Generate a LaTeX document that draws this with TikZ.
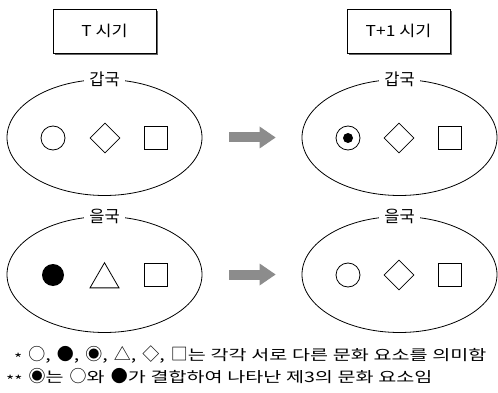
\documentclass[tikz,border=0pt]{standalone}
\usepackage{graphicx}
\usepackage{fontspec}
\setmainfont{Noto Sans CJK KR}
\usetikzlibrary{shapes.geometric,shadows,arrows.meta}

\newcommand{\notemark}[1]{\raisebox{-3pt}{\fontsize{13}{13}\selectfont #1}}
\newcommand{\notesym}[1]{\hspace{1pt}\scalebox{0.74}[1]{\fontsize{17}{17}\selectfont #1}}
\newcommand{\notefont}{\fontsize{14.5}{17}\selectfont\spaceskip 3.5pt\relax}
\newcommand{\wide}[2]{\scalebox{#1}[1]{#2}}

\tikzset{
  period/.style={draw, line width=0.7pt, fill=white, minimum width=103pt, minimum height=44pt,
    font=\fontsize{15}{17}\selectfont,
    drop shadow={shadow xshift=2pt, shadow yshift=-2pt, fill=black!60, opacity=1}},
  country/.style={draw, ellipse, line width=0.8pt, minimum width=195pt, minimum height=116pt, inner sep=0pt},
  cname/.style={fill=white, inner xsep=5pt, inner ysep=1pt, font=\fontsize{16.5}{18}\selectfont},
  elem/.style={draw, line width=0.8pt, inner sep=0pt},
  flow/.style={line width=10pt, draw=black!45,
    -{Triangle[length=16pt,width=22pt,line width=0pt]}, shorten <=27pt, shorten >=26pt},
  note/.style={anchor=west, inner sep=0pt, font=\notefont},
}

\begin{document}
\begin{tikzpicture}[x=1pt,y=-1pt]
  \useasboundingbox (0,0) rectangle (498,393);
  % periods
  \node[period] (tT) at (104.5,31) {\wide{1.16}{T 시기}};
  \node[period] (tT1) at (398.5,31) {\wide{1.16}{T+1 시기}};
  % countries
  \node[country] (gapT) at (104.5,137.5) {};
  \node[country] (gapT1) at (399.5,137.5) {};
  \node[country] (eulT) at (104.5,274.5) {};
  \node[country] (eulT1) at (399.5,274.5) {};
  \node[cname] (gapTname) at (gapT.north) {갑국};
  \node[cname] (gapT1name) at (gapT1.north) {갑국};
  \node[cname] (eulTname) at (eulT.north) {을국};
  \node[cname] (eulT1name) at (eulT1.north) {을국};
  % elements, T
  \node[elem, circle, minimum size=24pt] (gapTa) at (53,138) {};
  \node[elem, diamond, minimum size=30pt] (gapTb) at (105,138) {};
  \node[elem, minimum size=23pt] (gapTc) at (155.5,138) {};
  \node[circle, fill, minimum size=22pt, inner sep=0pt] (eulTa) at (53,275) {};
  \node[elem, regular polygon, regular polygon sides=3, minimum size=33.5pt] (eulTb) at (104.5,279.5) {};
  \node[elem, minimum size=23pt] (eulTc) at (155.5,275) {};
  % elements, T+1
  \node[elem, circle, minimum size=24pt] (gapT1a) at (348,138) {};
  \node[circle, fill, minimum size=10pt, inner sep=0pt] (gapT1dot) at (gapT1a) {};
  \node[elem, diamond, minimum size=30pt] (gapT1b) at (399,138) {};
  \node[elem, minimum size=23pt] (gapT1c) at (450,138) {};
  \node[elem, circle, minimum size=24pt] (eulT1a) at (348,275) {};
  \node[elem, diamond, minimum size=30pt] (eulT1b) at (399,275) {};
  \node[elem, minimum size=23pt] (eulT1c) at (450,275) {};
  % change
  \draw[flow] (gapT.east) -- (gapT1.west);
  \draw[flow] (eulT.east) -- (eulT1.west);
  % notes
  \node[note] (note1) at (14,355) {\wide{1.35}{\notemark{*} \notesym{○}, \notesym{●}, \notesym{◉}, \notesym{△}, \notesym{◇}, \notesym{□}는 각각 서로 다른 문화 요소를 의미함}};
  \node[note] (note2) at (6,377) {\wide{1.35}{\notemark{**} \notesym{◉}는 \notesym{○}와 \notesym{●}가 결합하여 나타난 제3의 문화 요소임}};
\end{tikzpicture}
\end{document}
